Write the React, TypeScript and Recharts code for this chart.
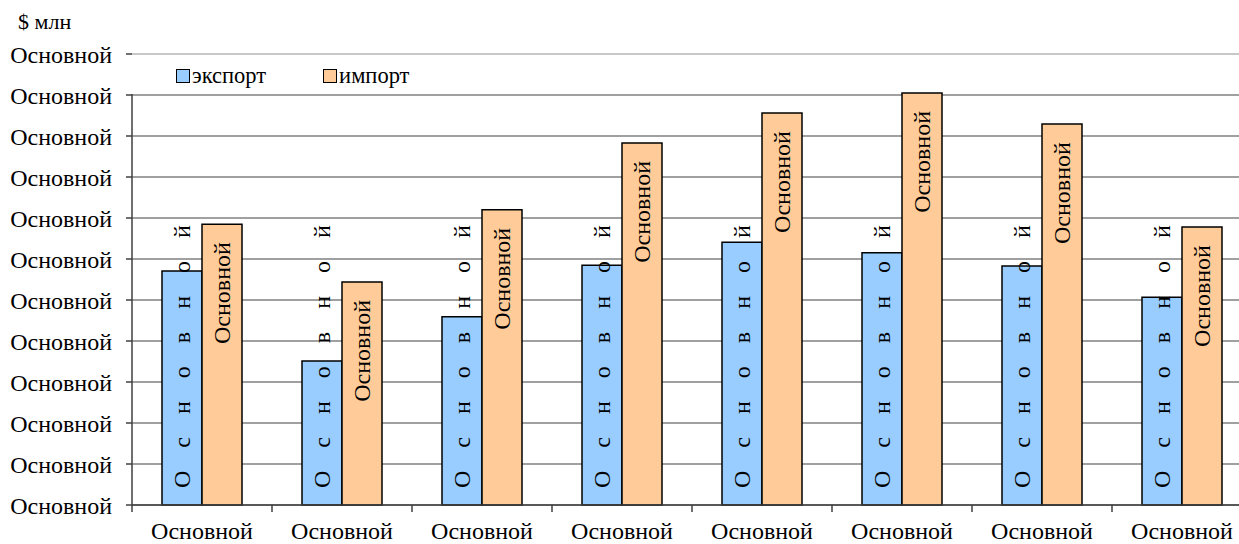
import React from "react";
import { BarChart, Bar, XAxis, YAxis, CartesianGrid, ReferenceLine, LabelList } from "recharts";

const FONT = "'Liberation Serif', 'Times New Roman', serif";

const categories = ["Основной", "Основной", "Основной", "Основной", "Основной", "Основной", "Основной", "Основной"];
const exportValues = [5.71, 3.51, 4.59, 5.85, 6.41, 6.15, 5.83, 5.07];
const importValues = [6.85, 5.44, 7.2, 8.83, 9.56, 10.05, 9.29, 6.78];
const exportLabels = ["Основной", "Основной", "Основной", "Основной", "Основной", "Основной", "Основной", "Основной"];
const importLabels = ["Основной", "Основной", "Основной", "Основной", "Основной", "Основной", "Основной", "Основной"];
const yTicks = [0, 1, 2, 3, 4, 5, 6, 7, 8, 9, 10, 11];
const yTickLabels = ["Основной", "Основной", "Основной", "Основной", "Основной", "Основной", "Основной", "Основной", "Основной", "Основной", "Основной", "Основной"];
const seriesNames = ["экспорт", "импорт"];
const seriesColors = ["#99CCFF", "#FFCC99"];
const unitLabel = "$ млн";

const data = categories.map((c, i) => ({
  key: "c" + i,
  name: c,
  exp: exportValues[i],
  imp: importValues[i],
  expLabel: exportLabels[i],
  impLabel: importLabels[i],
}));

const ExportLabel = (props: any) => {
  const x = Number(props.x), y = Number(props.y), w = Number(props.width), h = Number(props.height);
  const cx = x + w / 2;
  const by = y + h - 17;
  return (
    <text x={cx} y={by} transform={`rotate(-90 ${cx} ${by})`} textAnchor="start" dominantBaseline="central"
      letterSpacing={23} fontSize={24} fontFamily={FONT} fill="#000">{props.value}</text>
  );
};

const ImportLabel = (props: any) => {
  const x = Number(props.x), y = Number(props.y), w = Number(props.width);
  const cx = x + w / 2;
  const ty = y + 18;
  return (
    <text x={cx} y={ty} transform={`rotate(-90 ${cx} ${ty})`} textAnchor="end" dominantBaseline="central"
      fontSize={24} fontFamily={FONT} fill="#000">{props.value}</text>
  );
};

const XTick = (props: any) => {
  const { x, y, payload } = props;
  const idx = payload.index;
  return (
    <g>
      <line x1={x - 70} y1={y} x2={x - 70} y2={y + 7} stroke="#404040" strokeWidth={1.5} />
      <text x={x} y={y + 34} textAnchor="middle" fontSize={24} fontFamily={FONT} fill="#000">
        {categories[idx] ?? payload.value}
      </text>
    </g>
  );
};

export default function App() {
  return (
    <div style={{ position: "absolute", left: 0, top: 0, width: 1239, height: 544, overflow: "hidden", background: "#fff" }}>
      <div style={{ position: "absolute", left: 18, top: 8, fontFamily: FONT, fontSize: 22, color: "#000", lineHeight: "28px" }}>
        {unitLabel}
      </div>
      <BarChart width={1252} height={544} data={data} margin={{ top: 54, right: 0, bottom: 0, left: 0 }}
        barCategoryGap={30} barGap={0}>
        <CartesianGrid vertical={false} stroke="#808080" strokeWidth={1.5} />
        <ReferenceLine y={11} stroke="#c8c8c8" strokeWidth={2} />
        <XAxis dataKey="key" tick={<XTick />} tickLine={false} tickSize={0} tickMargin={0} height={39}
          axisLine={{ stroke: "#404040", strokeWidth: 1.5 }} interval={0} />
        <YAxis domain={[0, 11]} ticks={yTicks} width={132} interval={0}
          tickFormatter={(v: number) => yTickLabels[v]}
          tick={{ fontSize: 24, fontFamily: FONT, fill: "#000" }} tickSize={6} tickMargin={14}
          tickLine={{ stroke: "#404040", strokeWidth: 1.5 }}
          axisLine={{ stroke: "#404040", strokeWidth: 1.5, strokeDasharray: "0 40 600" }} />
        <Bar dataKey="exp" name={seriesNames[0]} fill={seriesColors[0]} stroke="#000" strokeWidth={1.5} barSize={40} isAnimationActive={false}>
          <LabelList dataKey="expLabel" content={<ExportLabel />} />
        </Bar>
        <Bar dataKey="imp" name={seriesNames[1]} fill={seriesColors[1]} stroke="#000" strokeWidth={1.5} barSize={40} isAnimationActive={false}>
          <LabelList dataKey="impLabel" content={<ImportLabel />} />
        </Bar>
      </BarChart>
      <div style={{ position: "absolute", left: 176, top: 63, display: "flex", alignItems: "center", fontFamily: FONT, fontSize: 22.5, color: "#000" }}>
        {seriesNames.map((n, i) => (
          <div key={n} style={{ display: "flex", alignItems: "center", marginRight: i === 0 ? 57 : 0 }}>
            <span style={{ display: "inline-block", width: 12, height: 12, background: seriesColors[i], border: "1.5px solid #000", marginRight: 2 }} />
            <span style={{ lineHeight: "26px" }}>{n}</span>
          </div>
        ))}
      </div>
    </div>
  );
}
